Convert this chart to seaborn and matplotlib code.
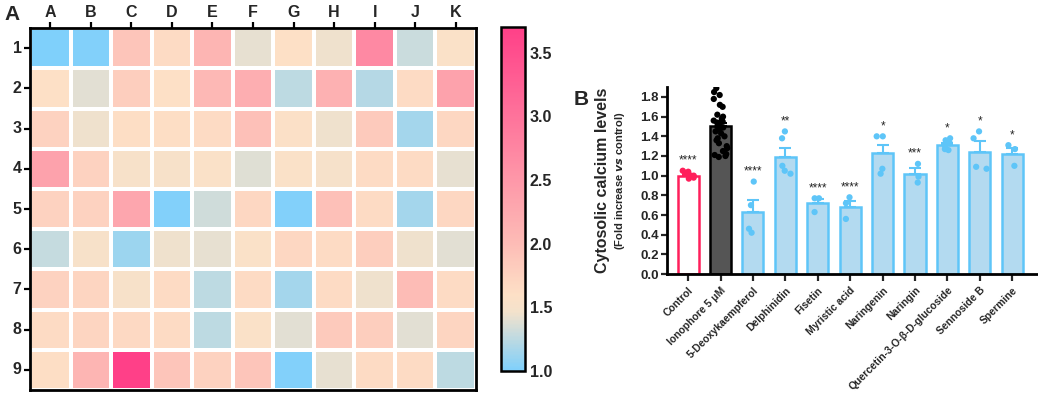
import numpy as np
import pandas as pd
import matplotlib.pyplot as plt
from matplotlib.colors import LinearSegmentedColormap
import seaborn as sns

# ---- panel A data ----
cols = ["A", "B", "C", "D", "E", "F", "G", "H", "I", "J", "K"]
rows = ["1", "2", "3", "4", "5", "6", "7", "8", "9"]
row1 = [1.00, 1.02, 1.90, 1.65, 2.10, 1.42, 1.60, 1.45, 2.70, 1.30, 1.55]
row2 = [1.60, 1.40, 1.80, 1.60, 2.05, 2.20, 1.25, 2.15, 1.22, 1.65, 2.35]
row3 = [1.75, 1.45, 1.62, 1.62, 1.65, 1.95, 1.58, 1.45, 1.85, 1.15, 1.70]
row4 = [2.35, 1.75, 1.52, 1.52, 1.55, 1.38, 1.55, 1.50, 1.65, 1.65, 1.42]
row5 = [1.75, 1.75, 2.30, 1.02, 1.32, 1.70, 1.02, 1.95, 1.65, 1.15, 1.70]
row6 = [1.28, 1.52, 1.12, 1.45, 1.42, 1.55, 1.70, 1.65, 1.80, 1.45, 1.40]
row7 = [1.75, 1.72, 1.52, 1.65, 1.25, 1.65, 1.15, 1.65, 1.45, 2.00, 1.65]
row8 = [1.65, 1.72, 1.68, 1.65, 1.25, 1.55, 1.40, 1.85, 1.80, 1.40, 1.72]
row9 = [1.62, 2.10, 3.70, 1.90, 1.75, 1.90, 1.02, 1.42, 1.65, 1.65, 1.25]

# ---- panel B data ----
groups = ["Control", "Ionophore 5 \u03bcM", "5-Deoxykaempferol", "Delphinidin", "Fisetin",
          "Myristic acid", "Naringenin", "Naringin", "Quercetin-3-O-\u03b2-D-glucoside",
          "Sennoside B", "Spermine"]
means = [1.00, 1.50, 0.63, 1.19, 0.72, 0.68, 1.23, 1.02, 1.31, 1.24, 1.22]
sems = [0.01, 0.04, 0.12, 0.09, 0.04, 0.06, 0.08, 0.06, 0.02, 0.11, 0.06]
stars = ["****", "", "****", "**", "****", "****", "*", "***", "*", "*", "*"]
points = [
    [0.97, 1.00, 1.03, 1.04, 0.98, 1.00, 1.05],
    [1.89, 1.85, 1.82, 1.78, 1.72, 1.70, 1.62, 1.60, 1.58, 1.56, 1.55, 1.54,
     1.52, 1.50, 1.49, 1.47, 1.45, 1.43, 1.40, 1.38, 1.36, 1.33, 1.30, 1.28,
     1.25, 1.22, 1.20, 1.19, 1.21, 1.55],
    [0.94, 0.70, 0.46, 0.42],
    [1.45, 1.38, 1.10, 1.05, 1.02],
    [0.77, 0.77, 0.63],
    [0.78, 0.72, 0.56],
    [1.40, 1.40, 1.07, 1.02],
    [1.12, 0.99, 0.93],
    [1.38, 1.36, 1.33, 1.30, 1.26, 1.27],
    [1.45, 1.38, 1.09, 1.07],
    [1.31, 1.27, 1.10],
]

sns.set_theme(style="ticks")
plt.rcParams["font.family"] = ["Liberation Sans", "DejaVu Sans"]
plt.rcParams["font.weight"] = "bold"
np.random.seed(3)

fig = plt.figure(figsize=(10.38, 4.08), dpi=100)

# ---- heatmap ----
grid = pd.DataFrame([row1, row2, row3, row4, row5, row6, row7, row8, row9], index=rows, columns=cols)
cmap = LinearSegmentedColormap.from_list(
    "calc", [(0.0, "#7fd0fb"), (0.17, "#f3e2cc"), (0.22, "#fde0c6"),
             (0.37, "#fdbcb6"), (1.0, "#ff4088")])
ax_h = fig.add_axes([0.0289, 0.0441, 0.4297, 0.887])
ax_c = fig.add_axes([0.4827, 0.0907, 0.0231, 0.843])
sns.heatmap(grid, ax=ax_h, cbar_ax=ax_c, cmap=cmap, vmin=1.0, vmax=3.7,
            linewidths=1.5, linecolor="white")
ax_h.xaxis.tick_top()
ax_h.tick_params(axis="both", length=4, width=1.6, color="black", labelsize=11.5, pad=2)
ax_h.set_xticklabels(cols, fontweight="bold", rotation=0)
ax_h.set_yticklabels(rows, fontweight="bold", rotation=0)
ax_h.set_xlabel("")
ax_h.set_ylabel("")
for s in ax_h.spines.values():
    s.set_visible(True)
    s.set_linewidth(2)
    s.set_color("black")

cbar = ax_h.collections[0].colorbar
cbar.set_ticks([1.0, 1.5, 2.0, 2.5, 3.0, 3.5])
cbar.set_ticklabels(["1.0", "1.5", "2.0", "2.5", "3.0", "3.5"], fontweight="bold")
ax_c.tick_params(axis="y", left=True, right=True, direction="in", length=4, width=1.5,
                 color="black", labelsize=11.5)
cbar.outline.set_linewidth(1.8)
cbar.outline.set_edgecolor("black")

# ---- bar chart ----
ax_b = fig.add_axes([0.6426, 0.3284, 0.356, 0.458])
fills = ["white", "#555555"] + ["#a9ddfa"] * 9
edges = ["#ff1f5b", "black"] + ["#5ec5f8"] * 9
dots = ["#ff1f5b", "black"] + ["#5ec5f8"] * 9

sns.barplot(x=groups, y=means, hue=groups, palette=fills, order=groups, hue_order=groups,
            width=0.65, errorbar=None, legend=False, ax=ax_b, zorder=1)
for p, ec in zip(ax_b.patches, edges):
    p.set_edgecolor(ec)
    p.set_linewidth(1.8)

for i, (m, s, ec) in enumerate(zip(means, sems, edges)):
    ax_b.errorbar(i, m, yerr=[[0], [s]], fmt="none", ecolor=ec, elinewidth=1.5,
                  capsize=4, capthick=1.5, zorder=3)

pts = pd.DataFrame({"group": np.repeat(groups, [len(p) for p in points]),
                    "value": np.concatenate(points)})
sns.stripplot(data=pts, x="group", y="value", hue="group", palette=dots, order=groups,
              hue_order=groups, size=4.5, jitter=0.22, legend=False, ax=ax_b, zorder=4)

for i, (m, s, p, st) in enumerate(zip(means, sems, points, stars)):
    if st:
        top = max(max(p), m + s)
        ax_b.text(i, top + 0.04, st, ha="center", va="bottom", fontsize=8.5, fontweight="normal")

ax_b.set_ylim(0, 1.9)
ax_b.set_xlim(-0.65, 10.75)
ax_b.set_yticks(np.arange(0, 1.81, 0.2))
ax_b.set_yticklabels([f"{v:.1f}" for v in np.arange(0, 1.81, 0.2)], fontweight="bold")
ax_b.set_xticks(range(len(groups)))
ax_b.set_xticklabels(groups, rotation=45, ha="right", rotation_mode="anchor",
                     fontweight="bold", fontsize=7.5)
ax_b.tick_params(axis="y", labelsize=9.5, width=1.6, length=4, pad=2)
ax_b.tick_params(axis="x", width=1.6, length=5, pad=3)
ax_b.set_xlabel("")
ax_b.set_ylabel("")
sns.despine(ax=ax_b)
for s in ["left", "bottom"]:
    ax_b.spines[s].set_linewidth(2)
    ax_b.spines[s].set_color("black")

ax_b.text(-0.175, 0.5, "Cytosolic calcium levels", transform=ax_b.transAxes, rotation=90,
          ha="center", va="center", fontsize=11.5, fontweight="bold")
ax_b.text(-0.128, 0.5, "(Fold increase $\\it{vs}$ control)", transform=ax_b.transAxes,
          rotation=90, ha="center", va="center", fontsize=8, fontweight="bold")

fig.text(0.004, 0.965, "A", fontsize=15, fontweight="bold", va="center")
fig.text(0.553, 0.755, "B", fontsize=15, fontweight="bold", va="center")

fig.savefig("out.png", dpi=100)
